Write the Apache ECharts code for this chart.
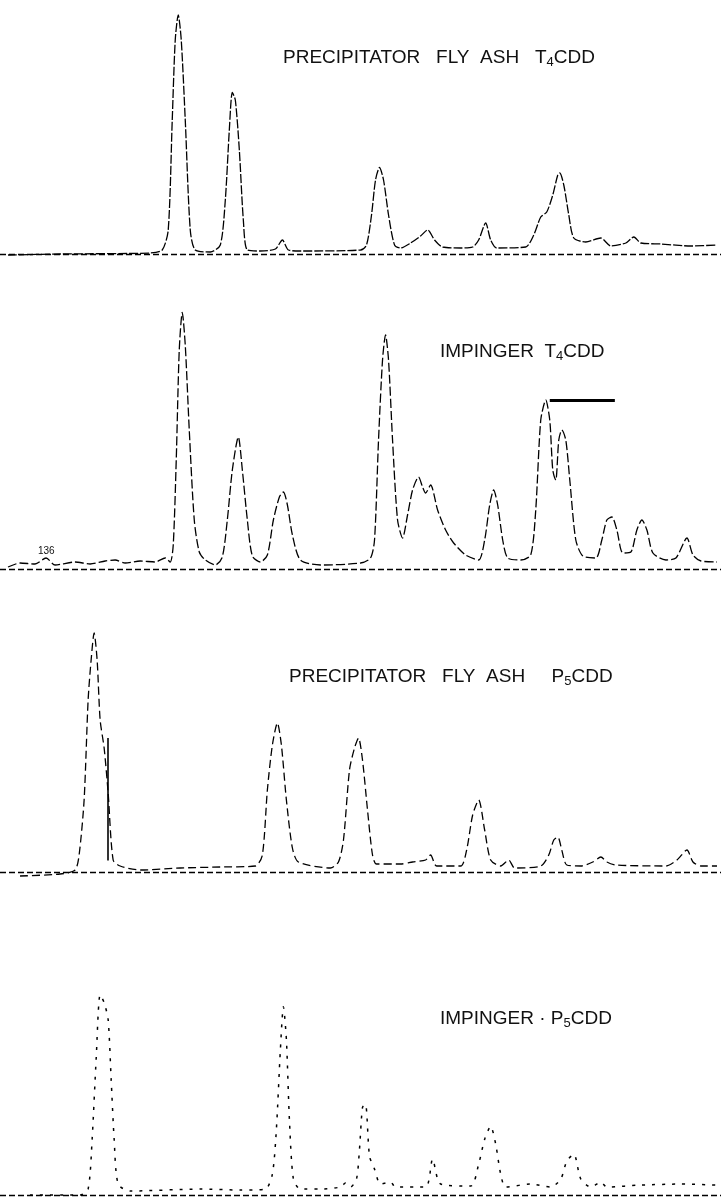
<!DOCTYPE html>
<html>
<head>
<meta charset="utf-8">
<title>Chromatograms</title>
<script src="https://cdn.jsdelivr.net/npm/echarts@6/dist/echarts.min.js"></script>
<style>
  html, body { margin: 0; padding: 0; background: #fff; }
  #chart { width: 721px; height: 1201px; }
</style>
</head>
<body>
<div id="chart"></div>
<script>
// retention positions and detector response (relative units)

const flyAshT4Time = [8, 60, 150, 162, 168, 172, 175, 178, 181, 185, 190, 195, 210, 220, 225, 229, 232, 235, 239, 243, 247, 260, 275, 282, 288, 300, 360, 366, 371, 375, 379, 383, 388, 394, 400, 410, 420, 427, 434, 442, 460, 472, 478, 485, 490, 496, 525, 533, 540, 546, 552, 557, 559, 563, 568, 573, 585, 600, 610, 625, 633, 640, 660, 690, 716];
const flyAshT4Signal = [-2, -1.6, -1.2, 0, 8, 52, 84, 94, 84, 52, 8, 0, -0.8, 2, 20, 48, 63, 60, 40, 12, 0, -0.4, 0.4, 4, 0, -0.4, 0, 2, 14, 28, 33, 28, 14, 2, 0.8, 2.8, 5.6, 8, 4, 1.2, 0.8, 1.2, 4, 10.8, 4, 0.8, 1.2, 6, 13.2, 15.2, 22, 30, 30.8, 26, 14, 4.8, 3.2, 4.8, 1.6, 2.8, 5.2, 2.8, 2.4, 1.6, 2];

const impingerT4Time = [8, 20, 35, 46, 55, 75, 90, 105, 115, 125, 140, 155, 165, 170, 173, 176, 179, 182, 185, 189, 194, 199, 205, 215, 222, 227, 232, 238, 242, 247, 252, 260, 267, 273, 279, 283, 287, 292, 300, 320, 360, 370, 374, 378, 382, 385, 388, 392, 397, 402, 407, 412, 418, 422, 425, 430, 437, 445, 453, 465, 478, 484, 489, 493, 497, 502, 507, 520, 530, 535, 540, 545, 549, 552, 555, 558, 561, 565, 569, 575, 582, 595, 601, 606, 611, 616, 622, 630, 636, 641, 646, 652, 665, 675, 686, 692, 700, 716];
const impingerT4Signal = [-0.8, 0.8, 0.4, 2.8, 0, 1.2, 0.4, 1.6, 2, 0.8, 1.6, 1.2, 2.8, 1.2, 8, 42, 86, 101, 88, 54, 18, 5.2, 2, 0, 3.2, 18, 38, 51.2, 38, 18, 3.6, 1.2, 4, 18, 27.2, 29.2, 24, 12, 2, 0, 0.8, 2.8, 10, 50, 82, 92, 82, 50, 18, 10.8, 20, 30, 35.2, 31.2, 28.8, 32, 22, 14, 8.8, 4, 2, 10, 24, 30, 24, 10, 2.8, 2, 4, 22, 58, 66, 58, 38, 34, 50, 54, 50, 34, 10, 3.6, 2.8, 10, 18, 19.2, 14, 4.8, 5.2, 14, 18, 14, 4.8, 2, 2.8, 10.8, 4, 1.6, 1.2];
const impingerT4Bar = [[549, 66], [614, 66]];

const flyAshP5Time = [20, 60, 75, 79, 84, 88, 91, 94, 97, 100, 104, 108, 113, 120, 140, 180, 220, 255, 262, 267, 272, 277, 281, 286, 292, 298, 330, 338, 343, 349, 354, 358, 362, 367, 372, 376, 400, 412, 425, 430, 436, 460, 466, 472, 478, 484, 490, 500, 508, 514, 540, 548, 553, 557, 561, 566, 580, 592, 600, 606, 615, 665, 676, 686, 692, 700, 716];
const flyAshP5Signal = [-3.2, -2.4, -0.8, 5.2, 27.2, 67.2, 83.2, 94, 83.2, 59.2, 48, 30, 3.2, 0.8, -0.8, 0, 0.4, 0.8, 5.2, 31.2, 49.2, 58, 49.2, 27.2, 8, 2.4, 0, 2.4, 11.2, 39.2, 48, 52, 43.2, 23.2, 5.2, 1.6, 1.6, 2.4, 3.2, 5.2, 0.8, 0.8, 7.2, 21.2, 27.2, 15.2, 3.2, 0.8, 3.2, 0, 0.8, 5.2, 11.2, 12.4, 7.2, 1.2, 0.8, 2.4, 4.4, 2.4, 1.2, 0.8, 3.2, 7.2, 2.4, 0.8, 0.8];
const flyAshP5Marker = [[108, 3], [108, 52]];

const impingerP5Time = [30, 80, 88, 92, 96, 100, 104, 108, 111, 114, 118, 130, 200, 240, 265, 272, 276, 280, 283, 286, 289, 293, 300, 320, 340, 345, 350, 356, 359, 362, 365, 369, 374, 380, 390, 395, 425, 432, 440, 470, 478, 484, 490, 495, 500, 505, 530, 550, 560, 566, 573, 580, 590, 600, 606, 640, 680, 716];
const impingerP5Signal = [-1.6, -1.6, 0.8, 20.8, 52.8, 78.8, 75.6, 68.8, 44.8, 20.8, 2.8, 0, 0.8, 0.4, 0.8, 6.8, 24.8, 56.8, 74, 60.8, 28.8, 4.8, 0.8, 0.8, 1.6, 3.2, 1.6, 4.8, 16.8, 33.6, 34.8, 14, 8.8, 2.8, 3.6, 1.6, 1.6, 12.8, 2.8, 2, 10.8, 20.8, 26, 18.8, 6.8, 1.6, 2.8, 1.6, 4.8, 12, 14.8, 4.8, 1.6, 3.6, 1.6, 2.4, 2.8, 2.4];

const panelTitles = [
  "PRECIPITATOR   FLY  ASH   T{s|4}CDD",
  "IMPINGER  T{s|4}CDD",
  "PRECIPITATOR   FLY  ASH     P{s|5}CDD",
  "IMPINGER · P{s|5}CDD"
];

// layout: pixel row of each baseline and the top of each y range
const baselines = [250, 565, 868, 1192];
const yMax = [100, 104, 104, 104];
const yMin = -4;
const pxPerUnit = 2.5;

const traces = [
  { time: flyAshT4Time, signal: flyAshT4Signal, dash: [9, 2], width: 1.3 },
  { time: impingerT4Time, signal: impingerT4Signal, dash: [9, 3], width: 1.3 },
  { time: flyAshP5Time, signal: flyAshP5Signal, dash: [8, 4], width: 1.3 },
  { time: impingerP5Time, signal: impingerP5Signal, dash: [3, 7], width: 1.5 }
];

const chart = echarts.init(document.getElementById("chart"));

const grids = baselines.map((b, i) => ({
  left: 0,
  right: 0,
  top: b - yMax[i] * pxPerUnit,
  height: (yMax[i] - yMin) * pxPerUnit
}));

const xAxes = baselines.map((b, i) => ({
  type: "value", gridIndex: i, min: 0, max: 720, show: false
}));
const yAxes = baselines.map((b, i) => ({
  type: "value", gridIndex: i, min: yMin, max: yMax[i], show: false
}));

const baseMark = {
  silent: true,
  symbol: "none",
  label: { show: false },
  lineStyle: { color: "#000", type: [6, 3], width: 1.4 },
  data: [{ yAxis: -1.5 }]
};

const series = traces.map((t, i) => ({
  type: "line",
  xAxisIndex: i,
  yAxisIndex: i,
  data: t.time.map((x, k) => [x, t.signal[k]]),
  symbol: "none",
  smooth: 0.25,
  silent: true,
  lineStyle: { color: "#000", width: t.width, type: t.dash },
  markLine: JSON.parse(JSON.stringify(baseMark))
}));

// flat top drawn by the recorder over the doublet in the impinger T4CDD trace
series[1].markLine.data.push([
  { coord: impingerT4Bar[0], lineStyle: { type: "solid", width: 3 } },
  { coord: impingerT4Bar[1] }
]);
// vertical pen mark on the first fly ash P5CDD peak
series[2].markLine.data.push([
  { coord: flyAshP5Marker[0], lineStyle: { type: "solid", width: 1.6 } },
  { coord: flyAshP5Marker[1] }
]);

const titleBox = [
  { left: 283, top: 48 },
  { left: 440, top: 342 },
  { left: 289, top: 667 },
  { left: 440, top: 1009 }
];

const font = "'Liberation Sans', Arial, sans-serif";
const titleStyle = {
  fontFamily: font,
  fontSize: 19,
  fill: "#111",
  rich: {
    s: {
      fontFamily: font,
      fontSize: 13,
      fill: "#111",
      verticalAlign: "bottom",
      padding: [10, 0, 0, 0]
    }
  }
};

const graphics = panelTitles.map((text, i) => ({
  type: "text",
  left: titleBox[i].left,
  top: titleBox[i].top,
  silent: true,
  style: Object.assign({ text: text }, titleStyle)
}));

graphics.push({
  type: "text",
  left: 38,
  top: 546,
  silent: true,
  style: { text: "136", fontFamily: font, fontSize: 10, fill: "#111" }
});

chart.setOption({
  animation: false,
  backgroundColor: "#fff",
  grid: grids,
  xAxis: xAxes,
  yAxis: yAxes,
  series: series,
  graphic: graphics
});
</script>
</body>
</html>
